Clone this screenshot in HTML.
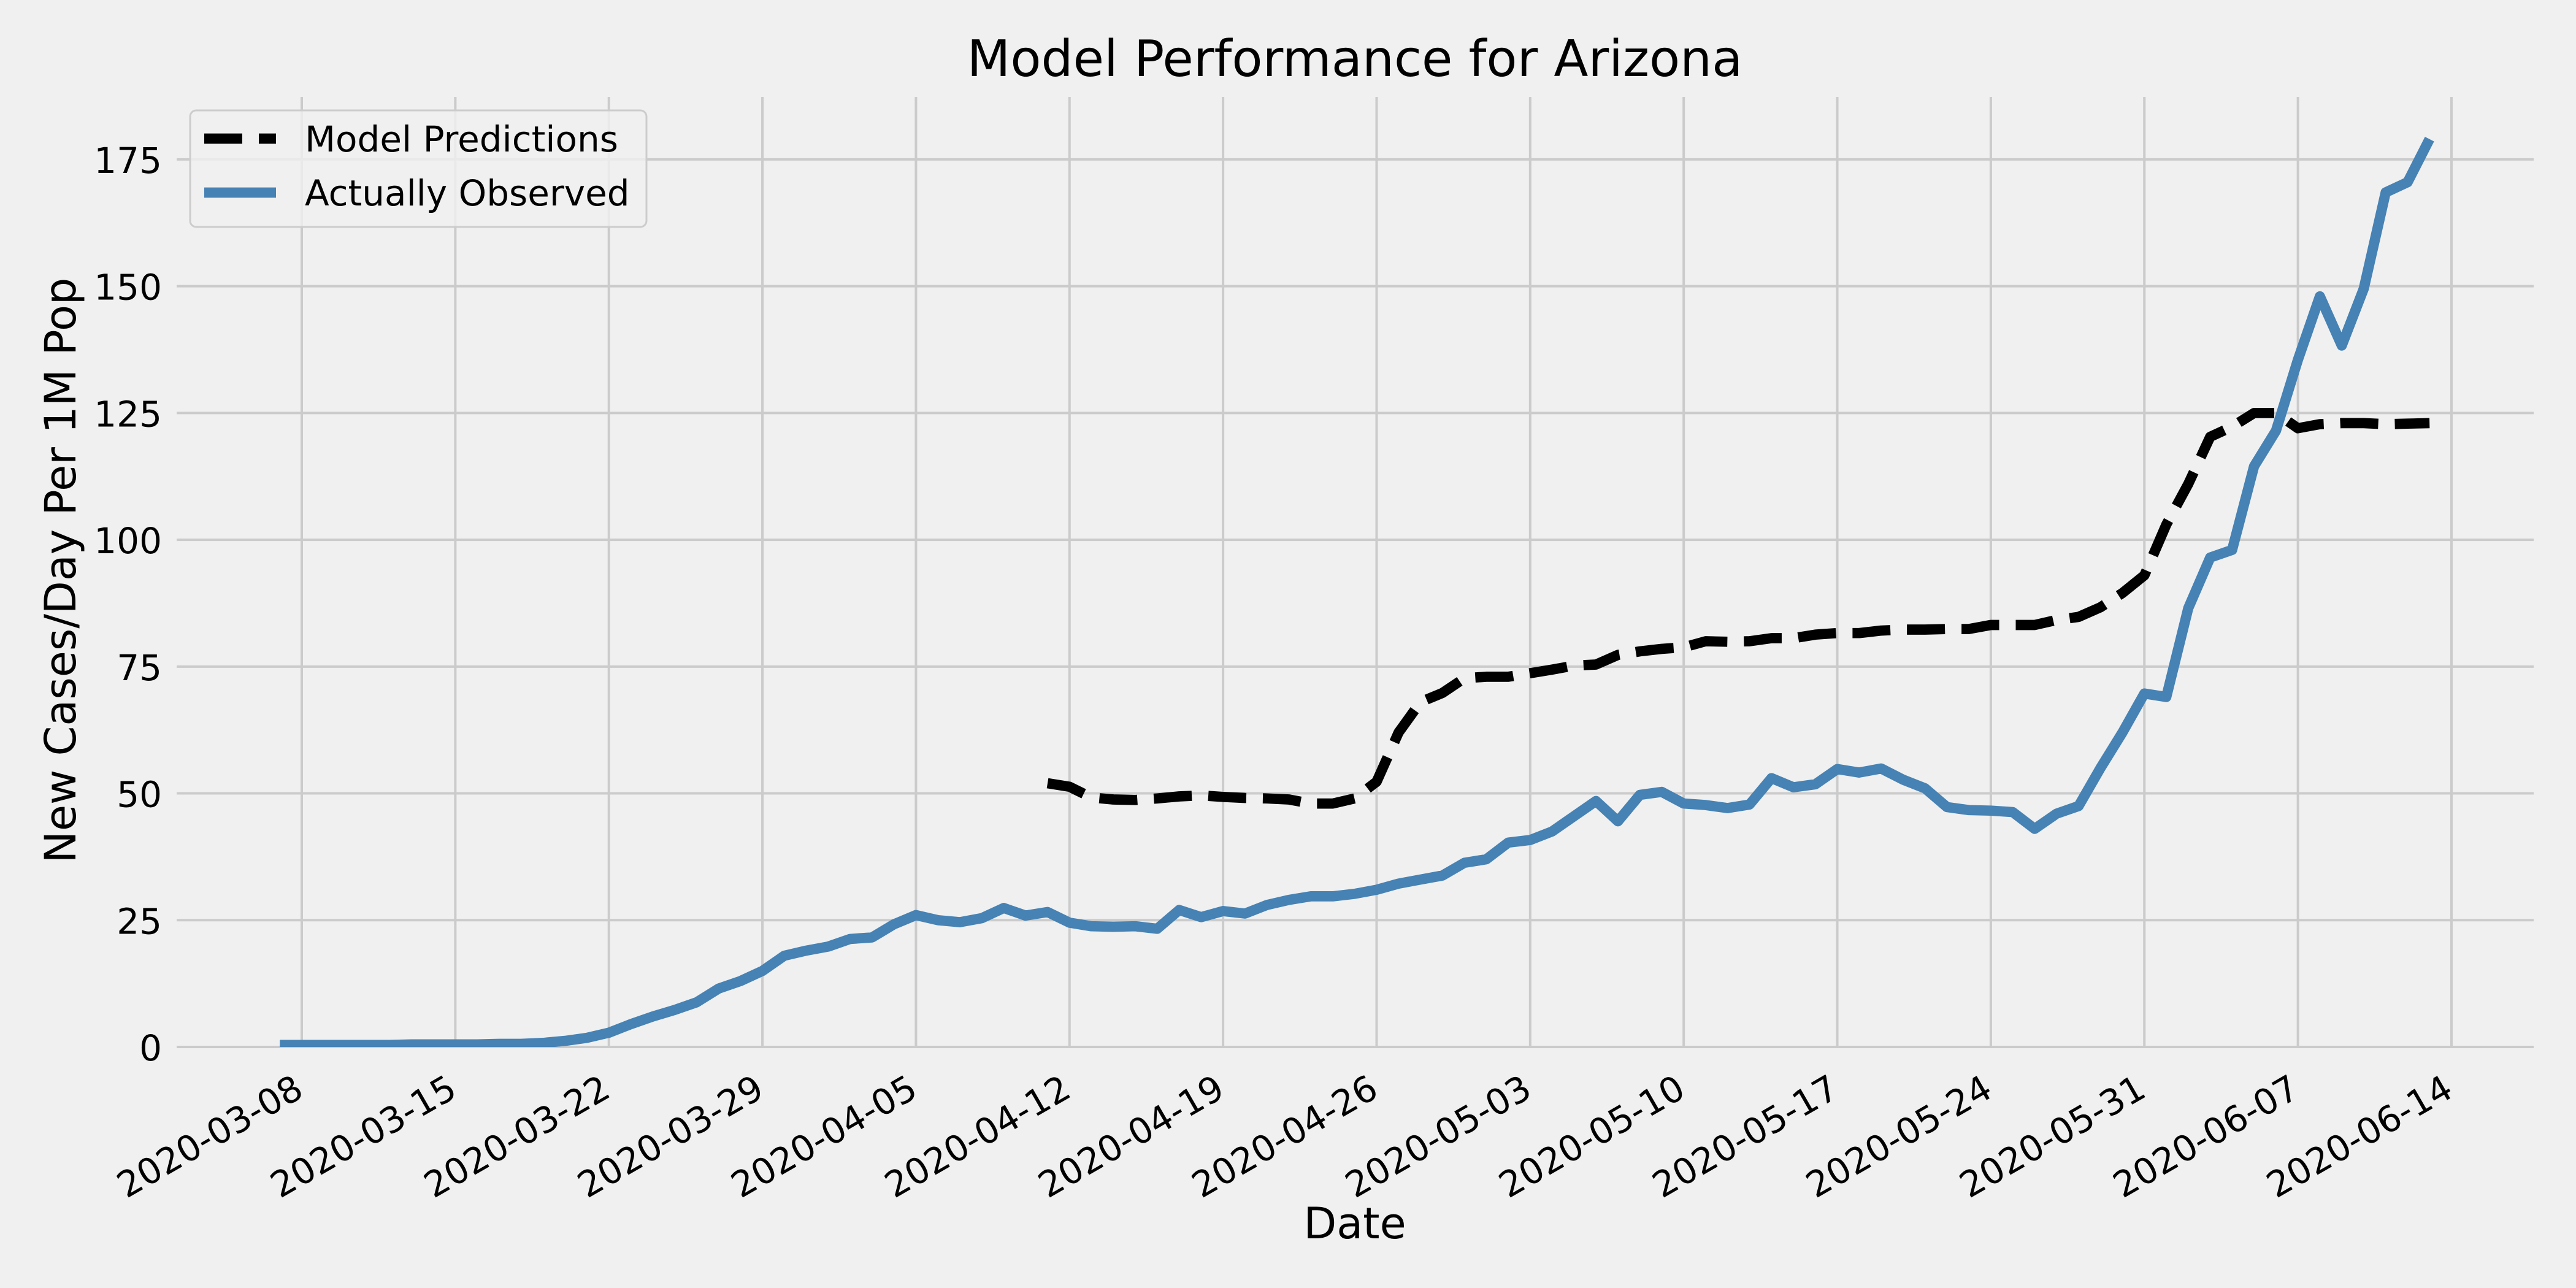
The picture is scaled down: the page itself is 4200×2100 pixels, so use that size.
<!DOCTYPE html>
<html><head><meta charset="utf-8"><style>
html,body{margin:0;padding:0;background:#f0f0f0;}
svg{display:block;font-family:"DejaVu Sans","Liberation Sans",sans-serif;}
</style></head><body>
<svg id="chart" width="4200" height="2100" viewBox="0 0 4200 2100" xmlns="http://www.w3.org/2000/svg">
<rect x="0" y="0" width="4200" height="2100" fill="#f0f0f0"/>
<defs><clipPath id="plotclip"><rect x="288" y="158" width="3843" height="1549"/></clipPath></defs>
<g id="grid"></g>
<g id="xticks"></g>
<g id="yticks"></g>
<g id="series" clip-path="url(#plotclip)"></g>
<text x="2209" y="124" font-size="82" text-anchor="middle" fill="#000">Model Performance for Arizona</text>
<text x="2209" y="2019" font-size="70" text-anchor="middle" fill="#000">Date</text>
<text x="0" y="0" font-size="70" text-anchor="middle" fill="#000" transform="translate(123,930) rotate(-90)">New Cases/Day Per 1M Pop</text>
<g>
<rect x="310" y="180" width="744" height="190" rx="10" fill="#f0f0f0" fill-opacity="0.8" stroke="#cccccc" stroke-width="3"/>
<line x1="333" y1="226" x2="450" y2="226" stroke="#000" stroke-width="16.7" stroke-dasharray="62,27"/>
<text x="497" y="247" font-size="58" fill="#000">Model Predictions</text>
<line x1="333" y1="314" x2="450" y2="314" stroke="#4682b4" stroke-width="16.7"/>
<text x="497" y="335" font-size="58" fill="#000">Actually Observed</text>
</g>
</svg>
<script>
// Data: days counted from 2020-03-07 (day 0)
const observedStartDay = 0;
const observedValues = [0.4,0.4,0.4,0.4,0.4,0.4,0.5,0.5,0.5,0.5,0.6,0.6,0.8,1.2,1.8,2.8,4.5,6,7.3,8.8,11.5,13,15,18,19,
19.8,21.3,21.6,24.2,26,25,24.6,25.4,27.4,25.9,26.6,24.5,23.8,23.7,23.8,23.3,27,25.6,26.8,26.3,28,29,29.7,29.7,30.2,31,32.2,33,33.8,36.3,
37,40.3,40.8,42.5,45.5,48.5,44.5,49.7,50.3,48,47.7,47.1,47.8,53,51.2,51.8,54.8,54.1,54.9,52.7,51,47.3,46.7,46.6,46.3,43,46,47.5,55,62,69.7,
69,86.5,96.5,98,114.5,121.5,135.5,148,138.3,149.5,168.5,170.5,179];
const modelStartDay = 35; // 2020-04-11
const modelValues = [52,51.3,49.2,48.8,48.7,49,49.4,49.6,49.3,49.1,49,48.8,48,48,49,52.3,62,68,69.8,72.7,
73,73,73.7,74.4,75.2,75.4,77.3,78,78.5,78.8,80,79.9,80,80.6,80.6,81.3,81.6,81.6,82.1,82.3,82.3,82.4,82.4,83.2,83.2,83.2,84.2,84.8,86.7,89.5,93,
103,111,120.3,122.3,125,125,122,122.8,123,123,122.8,122.9,123];
const xTickDays = [1,8,15,22,29,36,43,50,57,64,71,78,85,92,99];
const xTickLabels = ["2020-03-08","2020-03-15","2020-03-22","2020-03-29","2020-04-05","2020-04-12","2020-04-19","2020-04-26","2020-05-03","2020-05-10","2020-05-17","2020-05-24","2020-05-31","2020-06-07","2020-06-14"];
const yTickValues = [0,25,50,75,100,125,150,175];

const NS = "http://www.w3.org/2000/svg";
const AX_L = 288, AX_R = 4131, AX_T = 158, AX_B = 1707;
function xScale(d){ return 492 + (d - 1) * 35.765; }
function yScale(v){ return 1707 - v * 8.269; }
function mk(tag, attrs, parent){ const e = document.createElementNS(NS, tag); for (const k in attrs) e.setAttribute(k, attrs[k]); parent.appendChild(e); return e; }

const grid = document.getElementById('grid');
const xt = document.getElementById('xticks');
const yt = document.getElementById('yticks');
const series = document.getElementById('series');

xTickDays.forEach((d, i) => {
  const x = xScale(d);
  const gl = mk('line', {x1:x, x2:x, y1:AX_T, y2:AX_B, stroke:'#cbcbcb', 'stroke-width':4}, grid);
  
  
  const t = mk('text', {x:0, y:0, 'font-size':58, 'text-anchor':'end', fill:'#000', transform:'translate(' + (x + 6) + ',1786) rotate(-30)'}, xt);
  t.textContent = xTickLabels[i];
  
  
});
yTickValues.forEach(v => {
  const y = yScale(v);
  const gl = mk('line', {x1:AX_L, x2:AX_R, y1:y, y2:y, stroke:'#cbcbcb', 'stroke-width':4}, grid);
  
  
  const t = mk('text', {x:264, y:y + 22, 'font-size':58, 'text-anchor':'end', fill:'#000'}, yt);
  t.textContent = String(v);
  
  
});

function pathFrom(start, vals){
  return vals.map((v, i) => (i ? 'L' : 'M') + xScale(start + i).toFixed(1) + ',' + yScale(v).toFixed(1)).join(' ');
}
const obs = mk('path', {d:pathFrom(observedStartDay, observedValues), fill:'none', stroke:'#4682b4', 'stroke-width':16.7, 'stroke-linejoin':'round', 'stroke-linecap':'butt'}, series);


const mod = mk('path', {d:pathFrom(modelStartDay, modelValues), fill:'none', stroke:'#000', 'stroke-width':16.7, 'stroke-dasharray':'62,27', 'stroke-linejoin':'round', 'stroke-linecap':'butt'}, series);


</script>
</body></html>
